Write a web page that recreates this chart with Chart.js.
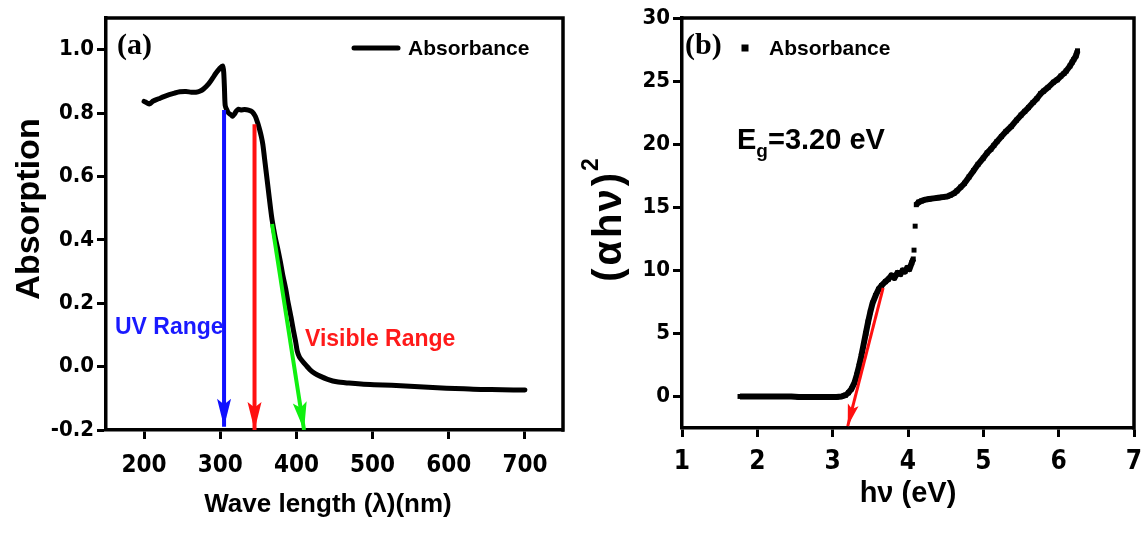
<!DOCTYPE html>
<html>
<head>
<meta charset="utf-8">
<script src="https://cdn.jsdelivr.net/npm/chart.js@4.4.1/dist/chart.umd.min.js"></script>
<style>
  html, body { margin: 0; padding: 0; background: #fff; }
  #wrap { position: relative; width: 1144px; height: 536px; overflow: hidden; }
  canvas { position: absolute; top: 0; }
  #chartA { left: 0; }
  #chartB { left: 572px; }
</style>
</head>
<body>
<div id="wrap">
  <canvas id="chartA" width="572" height="536"></canvas>
  <canvas id="chartB" width="572" height="536"></canvas>
</div>
<script>
// ---------- panel (a): absorption spectrum ----------
const wavelength = [200, 204, 207, 212, 219, 226, 233, 240, 247, 255, 262, 268, 273, 278, 285, 290, 294, 299, 303,
  304.5, 305.5, 306.5, 309, 311, 314, 316, 319, 321, 324, 327, 332, 337, 342, 346, 349, 352, 354, 356, 358, 360,
  363, 366, 368, 372, 375, 379, 382, 386, 389, 393, 396, 399, 401, 404, 408, 413, 418, 424, 431, 441, 453, 469,
  485, 502, 525, 549, 573, 597, 620, 642, 670, 700];
const absorption = [0.837, 0.832, 0.829, 0.838, 0.845, 0.852, 0.858, 0.863, 0.867, 0.868, 0.866, 0.866, 0.869, 0.876, 0.893, 0.91, 0.925, 0.94, 0.949,
  0.93, 0.88, 0.824, 0.808, 0.80, 0.795, 0.79, 0.798, 0.806, 0.812, 0.81, 0.811, 0.809, 0.804, 0.79, 0.77, 0.745, 0.725, 0.70, 0.66, 0.62,
  0.56, 0.50, 0.464, 0.41, 0.377, 0.33, 0.29, 0.245, 0.203, 0.155, 0.115, 0.078, 0.05, 0.03, 0.017, 0.003, -0.01, -0.021, -0.03, -0.04, -0.048, -0.052,
  -0.055, -0.057, -0.059, -0.062, -0.065, -0.068, -0.07, -0.072, -0.073, -0.074];
const waveTicks = [200, 300, 400, 500, 600, 700];
const absTicks = [-0.2, 0.0, 0.2, 0.4, 0.6, 0.8, 1.0];
const uvArrowX = [305, 305], uvArrowY = [0.81, -0.19];
const edgeArrowX = [345, 345], edgeArrowY = [0.765, -0.2];
const visArrowX = [368, 410], visArrowY = [0.45, -0.2];

// ---------- panel (b): Tauc plot ----------
const photonEnergy = [1.77, 1.85, 1.95, 2.05, 2.15, 2.25, 2.35, 2.45, 2.55, 2.65, 2.75, 2.85, 2.95, 3.05, 3.12,
  3.17, 3.21, 3.25, 3.29, 3.32, 3.35, 3.38, 3.41, 3.44, 3.47, 3.50, 3.53, 3.57, 3.61, 3.65, 3.70, 3.74, 3.78, 3.82,
  3.86, 3.90, 3.93, 3.96, 3.99, 4.02, 4.05, 4.07, 4.075, 4.08, 4.085, 4.095, 4.10,
  4.11, 4.14, 4.18, 4.23, 4.28, 4.34, 4.40, 4.46, 4.52, 4.56, 4.61, 4.65, 4.70, 4.75, 4.81, 4.87, 4.93, 5.00, 5.05, 5.10,
  5.14, 5.18, 5.24, 5.30, 5.37, 5.44, 5.50, 5.55, 5.60, 5.66, 5.71, 5.76, 5.80, 5.86, 5.93, 5.98, 6.03, 6.07, 6.10,
  6.15, 6.18, 6.20, 6.23, 6.25];
const tauc = [0, 0, 0, 0, 0, 0, 0, 0, -0.05, -0.05, -0.05, -0.05, -0.05, -0.05, 0,
  0.1, 0.3, 0.6, 1.1, 1.7, 2.4, 3.2, 4.1, 5.0, 5.9, 6.7, 7.4, 8.0, 8.5, 8.8, 9.1, 9.3, 9.6, 9.4,
  9.8, 9.7, 10.0, 9.9, 10.2, 10.1, 10.6, 10.9, null, 11.6, null, 13.5, null,
  15.2, 15.4, 15.5, 15.6, 15.65, 15.7, 15.75, 15.8, 15.85, 15.95, 16.1, 16.3, 16.6, 16.9, 17.4, 17.9, 18.4, 18.9, 19.3, 19.6,
  19.9, 20.2, 20.6, 21.0, 21.4, 21.9, 22.3, 22.6, 22.9, 23.3, 23.6, 24.0, 24.2, 24.5, 24.9, 25.1, 25.4, 25.6, 25.8,
  26.2, 26.5, 26.7, 27.0, 27.4];
const energyTicks = [1, 2, 3, 4, 5, 6, 7];
const taucTicks = [0, 5, 10, 15, 20, 25, 30];
const gapArrowX = [3.67, 3.20], gapArrowY = [8.6, -2.35];

// ---------- shared styling ----------
const NARROW = "'Liberation Sans Narrow', 'Arial Narrow', 'DejaVu Sans Condensed', sans-serif";
const WIDE = "'Liberation Sans', Arial, sans-serif";
const SERIF = "'Liberation Serif', 'Times New Roman', serif";
Chart.defaults.color = '#000';
Chart.defaults.animation = false;

const pts = (xs, ys) => xs.map((x, i) => ({ x, y: ys[i] }));

// fixed axis box sizes so both plot frames land where intended
const fixWidth = w => s => { s.width = w; };
const fixHeight = h => s => { s.height = h; s.paddingLeft = 0; s.paddingRight = 0; };
const useTicks = list => s => { s.ticks = list.map(v => ({ value: v })); };

function axis(opts) {
  return Object.assign({
    type: 'linear',
    grid: { display: true, drawOnChartArea: false, drawTicks: true, tickLength: 9, tickWidth: 3, color: '#000' },
    border: { display: true, width: 3.5, color: '#000' },
  }, opts);
}

// frame, arrowheads, legend entry and free text (incl. axis titles)
const decor = {
  id: 'decor',
  afterDatasetsDraw(chart, args, o) {
    const ctx = chart.ctx;
    const a = chart.chartArea;
    // closing top and right edges of the frame
    ctx.save();
    ctx.strokeStyle = '#000';
    ctx.lineWidth = 3.5;
    ctx.beginPath();
    ctx.moveTo(a.left - 1.75, a.top);
    ctx.lineTo(a.right, a.top);
    ctx.lineTo(a.right, a.bottom + 1.75);
    ctx.stroke();
    ctx.restore();

    // arrowheads at the end of every arrow dataset
    chart.data.datasets.forEach((ds, i) => {
      if (!ds.arrowHead) return;
      const p = chart.getDatasetMeta(i).data;
      const p0 = p[p.length - 2], p1 = p[p.length - 1];
      const ang = Math.atan2(p1.y - p0.y, p1.x - p0.x);
      const L = ds.arrowHead.length, W = ds.arrowHead.width;
      ctx.save();
      ctx.translate(p1.x, p1.y);
      ctx.rotate(ang);
      ctx.fillStyle = ds.borderColor;
      ctx.beginPath();
      ctx.moveTo(0, 0);
      ctx.lineTo(-L, -W / 2);
      ctx.lineTo(-L * 0.8, 0);
      ctx.lineTo(-L, W / 2);
      ctx.closePath();
      ctx.fill();
      ctx.restore();
    });

    // text items: parts laid out along the baseline, optionally rotated about (x, y)
    (o.texts || []).forEach(t => {
      ctx.save();
      ctx.fillStyle = t.color || '#000';
      ctx.textBaseline = 'middle';
      ctx.textAlign = 'left';
      ctx.translate(t.x, t.y);
      if (t.rot) ctx.rotate(t.rot);
      const widths = t.parts.map(p => { ctx.font = p.font || t.font; return ctx.measureText(p.text).width + (p.gap || 0); });
      const total = widths.reduce((s, w) => s + w, 0);
      let x = t.center ? -total / 2 : 0;
      t.parts.forEach((p, k) => {
        ctx.font = p.font || t.font;
        ctx.fillText(p.text, x, p.dy || 0);
        x += widths[k];
      });
      ctx.restore();
    });

    // legend entry
    if (o.legend) {
      const L = o.legend;
      const ds = chart.data.datasets[L.dataset];
      ctx.save();
      ctx.fillStyle = '#000';
      ctx.strokeStyle = '#000';
      if (L.kind === 'line') {
        ctx.lineWidth = 5;
        ctx.lineCap = 'round';
        ctx.beginPath();
        ctx.moveTo(L.x, L.y);
        ctx.lineTo(L.x + L.w, L.y);
        ctx.stroke();
      } else {
        ctx.fillRect(L.x + L.w / 2 - 3.5, L.y - 3.5, 7, 7);
      }
      ctx.font = L.font;
      ctx.textBaseline = 'middle';
      ctx.fillText(ds.label, L.x + L.w + L.gap, L.y + 1);
      ctx.restore();
    }
  }
};

function arrow(xs, ys, color, width, head) {
  return {
    label: 'arrow', data: pts(xs, ys), showLine: true, borderColor: color, backgroundColor: color,
    borderWidth: width, pointRadius: 0, order: 0, arrowHead: head, borderCapStyle: 'butt'
  };
}

// ---------- chart (a) ----------
new Chart(document.getElementById('chartA'), {
  type: 'scatter',
  data: {
    datasets: [
      arrow(uvArrowX, uvArrowY, '#1010ff', 4, { length: 28, width: 14 }),
      arrow(edgeArrowX, edgeArrowY, '#ff1010', 4, { length: 28, width: 14 }),
      arrow(visArrowX, visArrowY, '#10f010', 4, { length: 28, width: 14 }),
      {
        label: 'Absorbance', data: pts(wavelength, absorption), showLine: true,
        borderColor: '#000', borderWidth: 5, pointRadius: 0, tension: 0.25, order: 1,
        borderJoinStyle: 'round', borderCapStyle: 'round'
      }
    ]
  },
  options: {
    responsive: false, devicePixelRatio: 1, animation: false,
    layout: { padding: { left: 0, top: 18, right: 9, bottom: 0 } },
    plugins: {
      legend: { display: false }, tooltip: { enabled: false },
      decor: {
        legend: { dataset: 3, kind: 'line', x: 354, y: 48, w: 44, gap: 10, font: `bold 21px ${WIDE}` },
        texts: [
          { x: 117, y: 46, font: `bold 30px ${SERIF}`, parts: [{ text: '(a)' }] },
          { x: 115, y: 328, font: `bold 23px ${WIDE}`, color: '#1a1aff', parts: [{ text: 'UV Range' }] },
          { x: 305, y: 340, font: `bold 23px ${WIDE}`, color: '#ff1a1a', parts: [{ text: 'Visible Range' }] },
          { x: 30, y: 209, rot: -Math.PI / 2, center: true, font: `bold 34px ${WIDE}`, parts: [{ text: 'Absorption' }] },
          { x: 328, y: 505, center: true, font: `bold 26px ${WIDE}`, parts: [{ text: 'Wave length (λ)(nm)' }] }
        ]
      }
    },
    scales: {
      x: axis({
        min: 150, max: 750, afterBuildTicks: useTicks(waveTicks), afterFit: fixHeight(106),
        ticks: { font: { family: NARROW, size: 24, weight: 'bold' }, padding: 12, maxRotation: 0 }
      }),
      y: axis({
        min: -0.2, max: 1.1, afterBuildTicks: useTicks(absTicks), afterFit: fixWidth(106),
        ticks: { font: { family: NARROW, size: 22, weight: 'bold' }, padding: 3, callback: v => v.toFixed(1) }
      })
    }
  },
  plugins: [decor]
});

// ---------- chart (b) ----------
new Chart(document.getElementById('chartB'), {
  type: 'scatter',
  data: {
    datasets: [
      arrow(gapArrowX, gapArrowY, '#ff1010', 3, { length: 22, width: 11 }),
      {
        label: 'Absorbance', data: pts(photonEnergy, tauc), showLine: true, spanGaps: false,
        borderColor: '#000', backgroundColor: '#000', borderWidth: 6, pointStyle: 'rect', pointRadius: 3.5,
        pointBorderWidth: 0, order: 1, borderJoinStyle: 'round'
      }
    ]
  },
  options: {
    responsive: false, devicePixelRatio: 1, animation: false,
    layout: { padding: { left: 0, top: 18, right: 10, bottom: 0 } },
    plugins: {
      legend: { display: false }, tooltip: { enabled: false },
      decor: {
        legend: { dataset: 1, kind: 'point', x: 166, y: 48, w: 14, gap: 17, font: `bold 21px ${WIDE}` },
        texts: [
          { x: 113, y: 46, font: `bold 30px ${SERIF}`, parts: [{ text: '(b)' }] },
          { x: 165, y: 141, font: `bold 29px ${WIDE}`, parts: [
            { text: 'E' }, { text: 'g', font: `bold 19px ${WIDE}`, dy: 11 }, { text: '=3.20 eV' }
          ] },
          { x: 38, y: 220, rot: -Math.PI / 2, center: true, font: `bold 40px ${WIDE}`, parts: [
            { text: '(', gap: 3 }, { text: 'α', gap: 3 }, { text: 'h', gap: 2 }, { text: 'ν', gap: 3 }, { text: ')', gap: 2 },
            { text: '2', font: `bold 23px ${WIDE}`, dy: -18 }
          ] },
          { x: 336, y: 494, center: true, font: `bold 29px ${WIDE}`, parts: [{ text: 'hν (eV)' }] }
        ]
      }
    },
    scales: {
      x: axis({
        min: 1, max: 7, afterBuildTicks: useTicks(energyTicks), afterFit: fixHeight(108),
        ticks: { font: { family: NARROW, size: 26, weight: 'bold' }, padding: 10, maxRotation: 0 }
      }),
      y: axis({
        min: -2.5, max: 30, afterBuildTicks: useTicks(taucTicks), afterFit: fixWidth(110),
        ticks: { font: { family: NARROW, size: 22, weight: 'bold' }, padding: 3 }
      })
    }
  },
  plugins: [decor]
});
</script>
</body>
</html>
